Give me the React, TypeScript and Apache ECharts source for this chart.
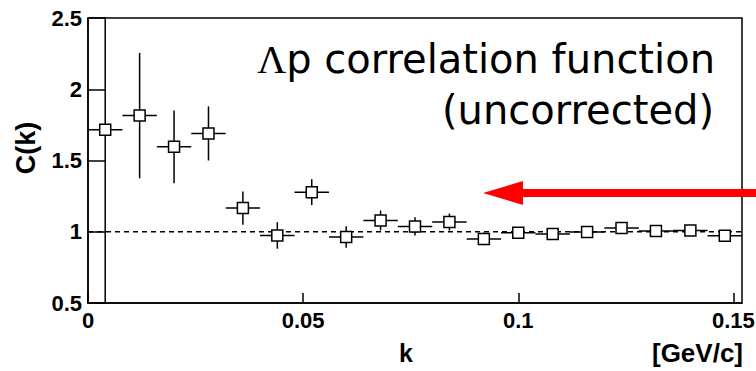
import React, { useEffect, useRef } from "react";
import * as echarts from "echarts";

const kValues = [0.004, 0.012, 0.02, 0.028, 0.036, 0.044, 0.052, 0.06, 0.068, 0.076, 0.084, 0.092, 0.1, 0.108, 0.116, 0.124, 0.132, 0.14, 0.148];
const cValues = [1.715, 1.815, 1.596, 1.69, 1.166, 0.974, 1.278, 0.963, 1.079, 1.037, 1.068, 0.95, 0.993, 0.984, 0.998, 1.026, 1.005, 1.009, 0.972];
const cErrors = [1.5, 0.44, 0.255, 0.19, 0.117, 0.093, 0.091, 0.075, 0.07, 0.064, 0.06, 0.045, 0.03, 0.03, 0.03, 0.03, 0.03, 0.03, 0.03];
const kHalfWidth = 0.004;
const xTicks = [0, 0.05, 0.1, 0.15];
const yTicks = [0.5, 1, 1.5, 2, 2.5];
const refLine = [[0, 1], [0.152, 1]];

const LABEL_FONT = "'Liberation Sans', Arial, sans-serif";

export default function App() {
  const ref = useRef<HTMLDivElement>(null);
  useEffect(() => {
    if (!ref.current) return;
    const chart = echarts.init(ref.current, null, { renderer: "svg" });
    const data = kValues.map((k, i) => [k, cValues[i], kHalfWidth, cErrors[i]]);
    chart.setOption({
      animation: false,
      backgroundColor: "#ffffff",
      grid: {
        left: 88,
        right: 14,
        top: 18,
        bottom: 68,
        show: true,
        borderColor: "#000",
        borderWidth: 1.5,
        outerBoundsMode: "none",
      },
      xAxis: {
        type: "value",
        min: 0,
        max: 0.152,
        interval: 0.05,
        axisLine: { show: true, lineStyle: { color: "#000", width: 1.5 } },
        axisTick: { show: true, inside: true, length: 10, customValues: xTicks, lineStyle: { color: "#000", width: 1.5 } },
        axisLabel: {
          customValues: xTicks,
          formatter: (v: number) => String(v),
          color: "#000",
          fontFamily: LABEL_FONT,
          fontWeight: "bold",
          fontSize: 22,
          margin: 6,
        },
        splitLine: { show: false },
      },
      yAxis: {
        type: "value",
        min: 0.5,
        max: 2.5,
        interval: 0.5,
        axisLine: { show: true, lineStyle: { color: "#000", width: 1.5 } },
        axisTick: { show: true, inside: true, length: 18, customValues: yTicks, lineStyle: { color: "#000", width: 1.5 } },
        axisLabel: {
          customValues: yTicks,
          formatter: (v: number) => String(v),
          color: "#000",
          fontFamily: LABEL_FONT,
          fontWeight: "bold",
          fontSize: 22,
          margin: 6,
          padding: [3, 0, 0, 0],
        },
        splitLine: { show: false },
      },
      series: [
        {
          type: "line",
          data: refLine,
          symbol: "none",
          lineStyle: { color: "#000", width: 1.5, type: [5, 4] },
          z: 1,
        },
        {
          type: "custom",
          data,
          z: 3,
          renderItem: (params: any, api: any) => {
            const x = api.value(0);
            const y = api.value(1);
            const ex = api.value(2);
            const ey = api.value(3);
            const cs = params.coordSys;
            const c = api.coord([x, y]);
            const xl = api.coord([x - ex, y]);
            const xr = api.coord([x + ex, y]);
            const yt = api.coord([x, y + ey]);
            const yb = api.coord([x, y - ey]);
            const top = Math.max(yt[1], cs.y);
            const bot = Math.min(yb[1], cs.y + cs.height);
            const s = 11;
            const st = { stroke: "#000", lineWidth: 1.5 };
            return {
              type: "group",
              children: [
                { type: "line", shape: { x1: xl[0], y1: c[1], x2: xr[0], y2: c[1] }, style: st },
                { type: "line", shape: { x1: c[0], y1: top, x2: c[0], y2: bot }, style: st },
                {
                  type: "rect",
                  shape: { x: c[0] - s / 2, y: c[1] - s / 2, width: s, height: s },
                  style: { fill: "#fff", stroke: "#000", lineWidth: 1.5 },
                },
              ],
            };
          },
        },
      ],
      graphic: [
        {
          type: "text",
          x: 715,
          y: 59,
          style: {
            text: "{g|Λ}{t|p correlation function}",
            align: "right",
            verticalAlign: "middle",
            rich: {
              g: { fontFamily: "'Liberation Serif', 'DejaVu Serif', serif", fontSize: 40, fill: "#000" },
              t: { fontFamily: "'DejaVu Sans', sans-serif", fontSize: 40, fill: "#000" },
            },
          },
          z: 10,
        },
        {
          type: "text",
          x: 714,
          y: 110,
          style: {
            text: "(uncorrected)",
            align: "right",
            verticalAlign: "middle",
            fontFamily: "'DejaVu Sans', sans-serif",
            fontSize: 40,
            fill: "#000",
          },
          z: 10,
        },
        {
          type: "text",
          x: 26,
          y: 148,
          rotation: Math.PI / 2,
          style: {
            text: "C(k)",
            align: "center",
            verticalAlign: "middle",
            fontFamily: LABEL_FONT,
            fontWeight: "bold",
            fontSize: 27,
            fill: "#000",
          },
        },
        {
          type: "text",
          x: 406,
          y: 353,
          style: {
            text: "k",
            align: "center",
            verticalAlign: "middle",
            fontFamily: LABEL_FONT,
            fontWeight: "bold",
            fontSize: 25,
            fill: "#000",
          },
        },
        {
          type: "text",
          x: 743,
          y: 353,
          style: {
            text: "[GeV/c]",
            align: "right",
            verticalAlign: "middle",
            fontFamily: LABEL_FONT,
            fontWeight: "bold",
            fontSize: 26,
            fill: "#000",
          },
        },
        {
          type: "rect",
          shape: { x: 521, y: 189, width: 240, height: 8 },
          style: { fill: "#ff0000" },
          z: 20,
        },
        {
          type: "polygon",
          shape: { points: [[483, 193], [523, 181], [523, 205]] },
          style: { fill: "#ff0000" },
          z: 20,
        },
      ],
    });
    return () => chart.dispose();
  }, []);
  return (
    <div
      ref={ref}
      style={{ position: "absolute", left: 0, top: 0, width: 756, height: 371 }}
    />
  );
}
